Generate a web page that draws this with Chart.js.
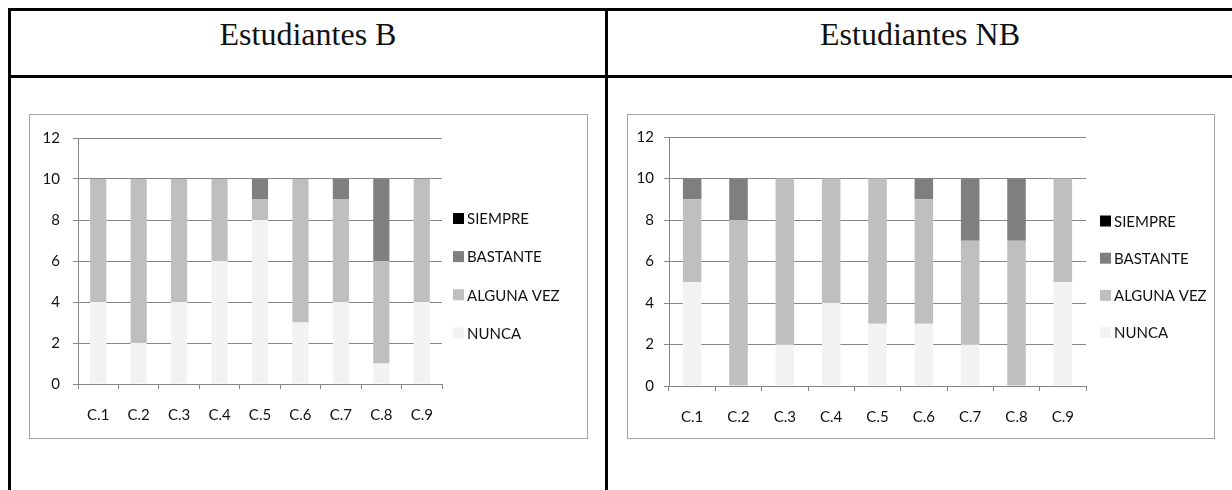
<!DOCTYPE html>
<html>
<head>
<meta charset="utf-8">
<script src="https://cdn.jsdelivr.net/npm/chart.js@4/dist/chart.umd.min.js"></script>
<style>
  body { margin: 0; width: 1232px; height: 490px; background: #fff; position: relative; overflow: hidden; }
  .rule { position: absolute; background: #000; }
  .title { position: absolute; top: 18px; line-height: 32px; text-align: center;
           font-family: "Liberation Serif", "DejaVu Serif", serif; font-size: 32px; color: #111; }
  .box { position: absolute; border: 1px solid #a3a3a3; box-sizing: border-box; }
  canvas { display: block; }
</style>
</head>
<body>
<!-- table frame -->
<div class="rule" style="left:8px; top:8px; width:1224px; height:3px;"></div>
<div class="rule" style="left:8px; top:75px; width:1224px; height:3px;"></div>
<div class="rule" style="left:8px; top:8px; width:3px; height:482px;"></div>
<div class="rule" style="left:605px; top:8px; width:3px; height:482px;"></div>

<div class="title" style="left:11px; width:594px;">Estudiantes B</div>
<div class="title" style="left:608px; width:624px;">Estudiantes NB</div>

<div class="box" style="left:29px; top:114px; width:559px; height:325px;">
  <canvas id="chartB" width="557" height="323"></canvas>
</div>
<div class="box" style="left:627px; top:114px; width:588px; height:325px;">
  <canvas id="chartNB" width="586" height="323"></canvas>
</div>

<script>
// Questions on the x axis
const categories = ['C.1', 'C.2', 'C.3', 'C.4', 'C.5', 'C.6', 'C.7', 'C.8', 'C.9'];
// Answer levels, stacked from the bottom up
const seriesNames = ['NUNCA', 'ALGUNA VEZ', 'BASTANTE', 'SIEMPRE'];
const seriesColors = ['#f2f2f2', '#bfbfbf', '#7f7f7f', '#000000'];

// Estudiantes B
const bNunca      = [4, 2, 4, 6, 8, 3, 4, 1, 4];
const bAlgunaVez  = [6, 8, 6, 4, 1, 7, 5, 5, 6];
const bBastante   = [0, 0, 0, 0, 1, 0, 1, 4, 0];
const bSiempre    = [0, 0, 0, 0, 0, 0, 0, 0, 0];

// Estudiantes NB
const nbNunca     = [5, 0, 2, 4, 3, 3, 2, 0, 5];
const nbAlgunaVez = [4, 8, 8, 6, 7, 6, 5, 7, 5];
const nbBastante  = [1, 2, 0, 0, 0, 1, 3, 3, 0];
const nbSiempre   = [0, 0, 0, 0, 0, 0, 0, 0, 0];

// Value axis
const yMin = 0;
const yMax = 12;
const yStep = 2;

const AXIS_GREY = '#878787';
const TEXT = '#111111';
const FONT = { family: 'Lato, "Open Sans", sans-serif', size: 15 };

// Legend drawn to the right of the plot, top entry = last dataset
const sideLegend = {
  id: 'sideLegend',
  afterDraw(chart, args, opts) {
    const ctx = chart.ctx;
    const items = chart.data.datasets.slice().reverse();
    ctx.save();
    ctx.font = `${FONT.size}px ${FONT.family}`;
    ctx.textBaseline = 'middle';
    ctx.textAlign = 'left';
    items.forEach((ds, i) => {
      const x = chart.chartArea.right + opts.gap;
      const y = opts.top + i * opts.step;
      ctx.fillStyle = ds.backgroundColor;
      ctx.fillRect(x, y - opts.box / 2, opts.box, opts.box);
      ctx.fillStyle = TEXT;
      ctx.fillText(ds.label, x + opts.box + 3, y + 1);
    });
    ctx.restore();
  }
};

function buildChart(id, series, geo) {
  return new Chart(document.getElementById(id), {
    type: 'bar',
    data: {
      labels: categories,
      datasets: series.map((values, i) => ({
        label: seriesNames[i],
        data: values,
        backgroundColor: seriesColors[i],
        borderWidth: 0,
        barPercentage: 0.4,
        categoryPercentage: 1
      }))
    },
    options: {
      responsive: false,
      animation: false,
      devicePixelRatio: 1,
      layout: { padding: { left: 0, top: geo.top, right: geo.right, bottom: 0 } },
      plugins: {
        legend: { display: false },
        tooltip: { enabled: false },
        sideLegend: geo.legend
      },
      scales: {
        x: {
          stacked: true,
          grid: { offset: true, drawOnChartArea: false, drawTicks: true, tickLength: 5, color: AXIS_GREY },
          border: { color: AXIS_GREY },
          ticks: { color: TEXT, font: FONT, padding: 17, maxRotation: 0 },
          afterFit(scale) { scale.height = geo.xHeight; }
        },
        y: {
          stacked: true,
          min: yMin,
          max: yMax,
          grid: { color: AXIS_GREY, tickLength: 5 },
          border: { color: AXIS_GREY },
          ticks: { stepSize: yStep, color: TEXT, font: FONT, padding: geo.yPad },
          afterFit(scale) { scale.width = geo.yWidth; }
        }
      }
    },
    plugins: [sideLegend]
  });
}

buildChart('chartB', [bNunca, bAlgunaVez, bBastante, bSiempre], {
  top: 23, right: 145, yWidth: 48, xHeight: 54, yPad: 13,
  legend: { gap: 11, top: 103.5, step: 38.1, box: 11 }
});

buildChart('chartNB', [nbNunca, nbAlgunaVez, nbBastante, nbSiempre], {
  top: 22, right: 128, yWidth: 41, xHeight: 52, yPad: 10,
  legend: { gap: 14, top: 106, step: 37.2, box: 11 }
});
</script>
</body>
</html>
